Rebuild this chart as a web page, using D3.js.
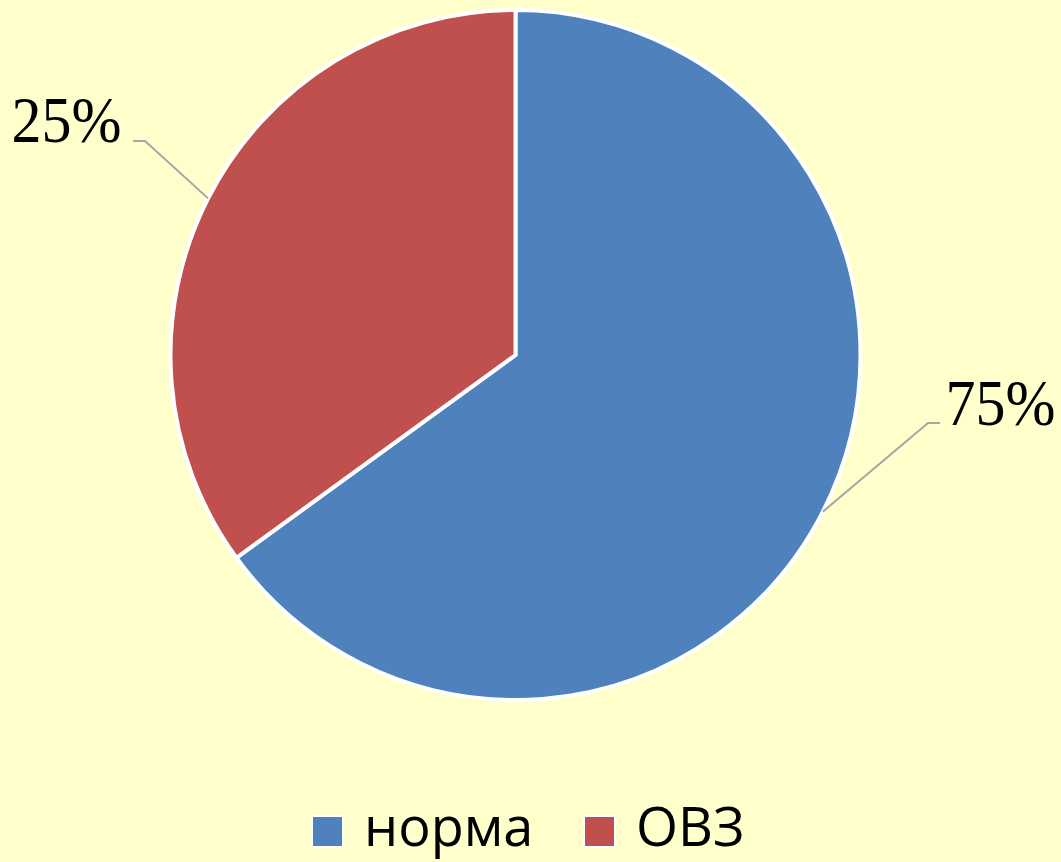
<!DOCTYPE html>
<html><head><meta charset="utf-8">
<script src="https://cdn.jsdelivr.net/npm/d3@7"></script>
<style>html,body{margin:0;padding:0;background:#FFFFCC;overflow:hidden}
.lbl{font-family:"Times New Roman",Times,"Liberation Serif",serif}</style>
</head><body>
<svg id="c" width="1061" height="862"></svg>
<script>
const categories = ["норма", "ОВЗ"];
const values = [65, 35];
const labels = ["75%", "25%"];
const colors = ["#4F81BD", "#C0504D"];

const svg = d3.select("#c");
svg.append("rect").attr("width",1061).attr("height",862).attr("fill","#FFFFCC");
const cx = 515.5, cy = 355, r = 345;
const g = svg.append("g").attr("transform",`translate(${cx},${cy})`);
const pie = d3.pie().sort(null).value(d=>d);
const arcs = pie(values);
const arc = d3.arc().innerRadius(0).outerRadius(r);
g.selectAll("path.s").data(arcs).join("path").attr("class","s")
  .attr("d",arc).attr("fill",(d,i)=>colors[i])
  .attr("stroke","#fff").attr("stroke-width",4).attr("stroke-linejoin","round");

// leader lines + labels
const lab = [
  {bend:[412.5,68], end:[424.5,68], tx:430, ty:70, anchor:"start"},
  {bend:[-370.5,-214], end:[-382.5,-214], tx:-394, ty:-213, anchor:"end"}
];
arcs.forEach((d,i)=>{
  const a = (d.startAngle+d.endAngle)/2;
  const p = [Math.sin(a)*r, -Math.cos(a)*r];
  const L = lab[i];
  g.append("polyline").attr("points",[p,L.bend,L.end].map(q=>q.join(",")).join(" "))
    .attr("fill","none").attr("stroke","#A6A6A6").attr("stroke-width",2);
  g.append("text").attr("class","lbl")
    .attr("transform",`translate(${L.tx},${L.ty}) scale(1,1.1)`)
    .attr("text-anchor",L.anchor)
    .attr("font-size",60).attr("fill","#000").text(labels[i]);
});

// legend
const leg = svg.append("g");
const lx = [312, 584];
categories.forEach((c,i)=>{
  leg.append("rect").attr("x",lx[i]).attr("y",816).attr("width",31).attr("height",31)
    .attr("fill",colors[i]).attr("stroke","#fff").attr("stroke-width",2);
  leg.append("text").attr("x",lx[i]+52).attr("y",846)
    .style("font-family","'Open Sans'").attr("font-size",54)
    .attr("fill","#000").text(c);
});
</script>
</body></html>
